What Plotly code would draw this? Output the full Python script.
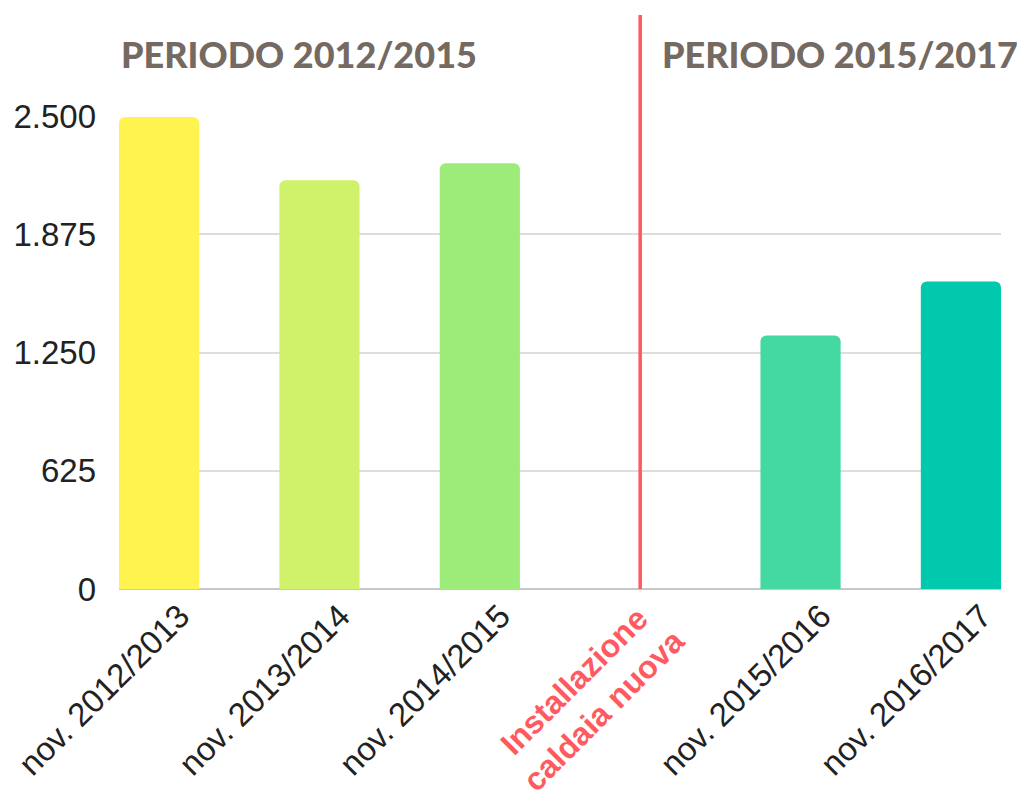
import plotly.graph_objects as go

categories = ["nov. 2012/2013", "nov. 2013/2014", "nov. 2014/2015",
              "Installazione<br>caldaia nuova", "nov. 2015/2016", "nov. 2016/2017"]
values = [2495, 2160, 2250, None, 1340, 1625]
bar_colors = ["#fff350", "#cff26a", "#9deb78", "#ffffff", "#43d9a0", "#00c9ae"]
y_ticks = [0, 625, 1250, 1875, 2500]
y_ticktext = ["0", "625", "1.250", "1.875", "2.500"]
period_titles = ["PERIODO 2012/2015", "PERIODO 2015/2017"]
event_index = 3

idx = list(range(len(categories)))
ticktext = ["" if i == event_index else c for i, c in enumerate(categories)]

fig = go.Figure()
fig.add_trace(go.Bar(
    x=idx, y=values, width=0.5,
    marker=dict(color=bar_colors, cornerradius=6, line=dict(width=0)),
    hoverinfo="skip", showlegend=False,
))

fig.add_shape(type="line", xref="x", yref="paper",
              x0=event_index, x1=event_index, y0=0, y1=1.2135,
              line=dict(color="#ff5a5f", width=3.5), layer="above")

# event label, rotated like the tick labels
fig.add_annotation(text="<b>" + categories[event_index] + "</b>", xref="x", yref="paper",
                   x=event_index - 0.32, y=-0.226, xanchor="center", yanchor="middle",
                   textangle=-45, showarrow=False, borderpad=0,
                   font=dict(family="Liberation Sans", size=32, color="#ff5a5f"))

fig.add_annotation(text=period_titles[0], xref="paper", yref="paper",
                   x=0.0, y=1.132, xanchor="left", yanchor="middle", showarrow=False,
                   font=dict(family="Lato", size=36, color="#746a62", weight=900))
fig.add_annotation(text=period_titles[1], xref="paper", yref="paper",
                   x=1.022, y=1.132, xanchor="right", yanchor="middle", showarrow=False,
                   font=dict(family="Lato", size=36, color="#746a62", weight=900))

fig.update_layout(
    width=1017, height=797,
    margin=dict(l=111, r=24, t=108, b=216),
    paper_bgcolor="white", plot_bgcolor="white",
    font=dict(family="Liberation Sans", color="#222222"),
    xaxis=dict(range=[-0.25, 5.25], tickmode="array",
               tickvals=[i + 0.13 for i in idx], ticktext=ticktext,
               tickangle=-45, tickfont=dict(size=33), showgrid=False,
               zeroline=False, showline=False, ticks="", automargin=False),
    yaxis=dict(range=[0, 2500], tickmode="array", tickvals=y_ticks, ticktext=y_ticktext,
               tickfont=dict(size=33, color="#222222"), showgrid=True,
               gridcolor="#dddddd", gridwidth=1.5, zeroline=True, zerolinecolor="#c8c8c8",
               zerolinewidth=2, ticks="", ticklabelstandoff=22, automargin=False),
)

fig.write_html("out.html")
